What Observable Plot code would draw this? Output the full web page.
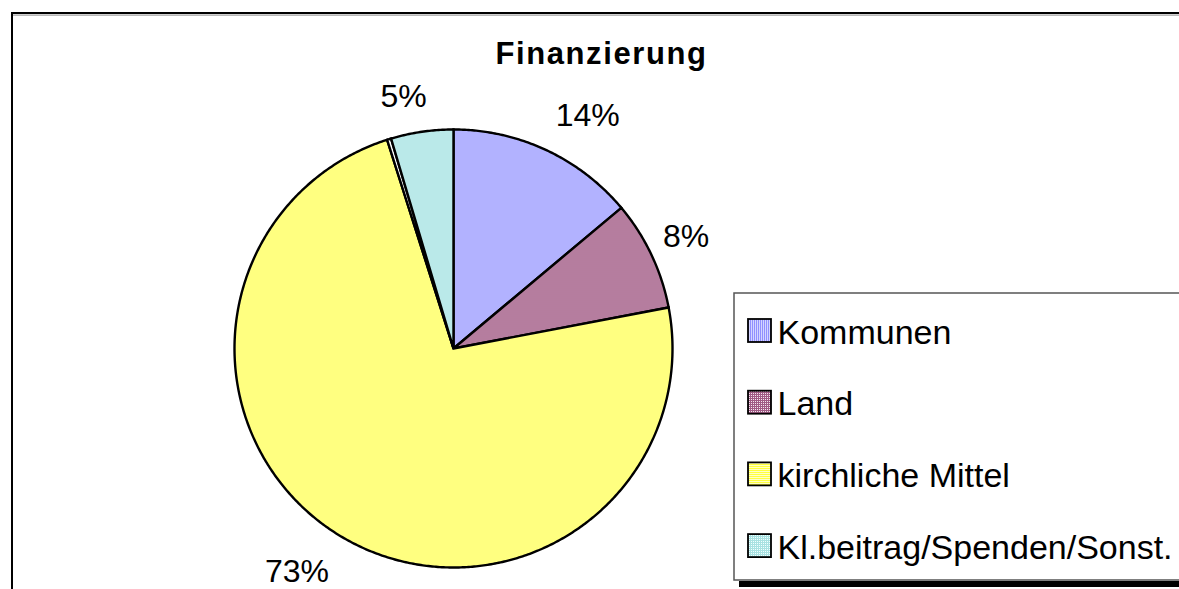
<!DOCTYPE html>
<html>
<head>
<meta charset="utf-8">
<script src="https://cdn.jsdelivr.net/npm/d3@7"></script>
<script src="https://cdn.jsdelivr.net/npm/@observablehq/plot@0.6"></script>
<style>
  html, body { margin: 0; padding: 0; background: white; overflow: hidden; }
  #chart svg { display: block; overflow: hidden; }
</style>
</head>
<body>
<div id="chart"></div>
<script>
// ---------- data ----------
const categories = ["Kommunen", "Land", "kirchliche Mittel", "", "Kl.beitrag/Spenden/Sonst."];
const values = [13.9, 8.1, 73.1, 0.3, 4.6];
const percentLabels = ["14%", "8%", "73%", "", "5%"];
const legendCategories = ["Kommunen", "Land", "kirchliche Mittel", "Kl.beitrag/Spenden/Sonst."];
const chartTitle = "Finanzierung";

// ---------- layout / style ----------
const W = 1179, H = 589;
const cx = 453, cy = 348, R = 219;
const patternIds = ["p-komm", "p-land", "p-kirch", "p-none", "p-kl"];
const labelRadius = 263;
const labelNudge = [[23, 6], [-5, 1], [-22, -3], [0, 0], [-12, 9]];
const legendBox = {x1: 734, x2: 1200, y1: 293, y2: 580};
const legendShadow = {x1: 739, x2: 1200, y: 583.5};
const outerFrame = {x1: 12, x2: 1200, y1: 13, y2: 640};
const legendFirstBaseline = 343, legendStep = 71.7;

// ---------- build slice polygons from the data ----------
const rows = categories.map((c, i) => ({name: c, value: values[i], label: percentLabels[i], fill: `url(#${patternIds[i]})`}));
const arcs = d3.pie().sort(null).value(d => d.value)(rows);
const slicePoints = [];
arcs.forEach((a, i) => {
  const key = "s" + i;
  slicePoints.push({key, fill: a.data.fill, x: cx, y: cy});
  const n = Math.max(2, Math.ceil((a.endAngle - a.startAngle) / (Math.PI / 360)));
  for (let k = 0; k <= n; k++) {
    const t = a.startAngle + (a.endAngle - a.startAngle) * k / n;
    slicePoints.push({key, fill: a.data.fill, x: cx + R * Math.sin(t), y: cy - R * Math.cos(t)});
  }
});
const labelRows = arcs.filter(a => a.data.label !== "").map(a => {
  const i = a.index;
  const m = (a.startAngle + a.endAngle) / 2;
  return {
    text: a.data.label,
    x: cx + labelRadius * Math.sin(m) + labelNudge[i][0],
    y: cy - labelRadius * Math.cos(m) + labelNudge[i][1]
  };
});
const legendRows = legendCategories.map((c, j) => {
  const i = categories.indexOf(c);
  const base = legendFirstBaseline + j * legendStep;
  return {name: c, fill: `url(#${patternIds[i]})`, base,
    sx1: 748, sx2: 771, sy1: base - 24, sy2: base - 1, tx: 777, ty: base - 0.32 * 34};
});

const svg = Plot.plot({
  width: W, height: H, margin: 0,
  x: {type: "linear", domain: [0, W], range: [0, W], axis: null},
  y: {type: "linear", domain: [0, H], range: [0, H], axis: null},
  color: {type: "identity"},
  style: {fontFamily: "'Liberation Sans', Arial, sans-serif", background: "white", overflow: "hidden"},
  marks: [
    // outer chart frame
    Plot.rect([outerFrame], {x1: "x1", x2: "x2", y1: "y1", y2: "y2", fill: "white", stroke: "black", strokeWidth: 2}),
    Plot.ruleY([outerFrame], {y: d => d.y1 + 1.6, x1: d => d.x1 + 1, x2: d => d.x2, stroke: "#888", strokeWidth: 1}),
    // pie slices
    Plot.line(slicePoints, {x: "x", y: "y", z: "key", fill: "fill", stroke: "black", strokeWidth: 2.4,
      curve: "linear-closed", strokeLinejoin: "miter", strokeMiterlimit: 4}),
    // percentage labels
    Plot.text(labelRows, {x: "x", y: "y", text: "text", fontSize: 32, textAnchor: "middle", lineAnchor: "middle", fill: "black"}),
    // title
    Plot.text([chartTitle], {x: () => 601, y: () => 63 - 0.32 * 31, text: d => d, fontSize: 31, fontWeight: "bold", textAnchor: "middle", lineAnchor: "middle", fill: "black"}),
    // legend
    Plot.rect([legendBox], {x1: "x1", x2: "x2", y1: "y1", y2: "y2", fill: "white", stroke: "#555", strokeWidth: 1.5}),
    Plot.ruleY([legendShadow], {y: "y", x1: "x1", x2: "x2", stroke: "black", strokeWidth: 6}),
    Plot.rect(legendRows, {x1: "sx1", x2: "sx2", y1: "sy1", y2: "sy2", fill: "fill", stroke: "black", strokeWidth: 1.8}),
    Plot.text(legendRows, {x: "tx", y: "ty", text: "name", fontSize: 34, textAnchor: "start", lineAnchor: "middle", fill: "black"})
  ]
});

// pattern fills (Excel-like hatches)
const defs = d3.select(svg).insert("defs", ":first-child");
function pattern(id, build) {
  const p = defs.append("pattern").attr("id", id).attr("patternUnits", "userSpaceOnUse")
    .attr("width", 2).attr("height", 2);
  build(p);
}
pattern("p-komm", p => {
  p.append("rect").attr("width", 2).attr("height", 2).attr("fill", "#d4d4ff");
  p.append("rect").attr("width", 1).attr("height", 2).attr("fill", "#8f8fff");
});
pattern("p-land", p => {
  p.append("rect").attr("width", 2).attr("height", 2).attr("fill", "#a05a84");
  p.append("rect").attr("x", 1).attr("y", 1).attr("width", 1).attr("height", 1).attr("fill", "#f4e6ee");
});
pattern("p-kirch", p => {
  p.append("rect").attr("width", 2).attr("height", 2).attr("fill", "#ffffc4");
  p.append("rect").attr("width", 2).attr("height", 1).attr("fill", "#ffff3c");
});
pattern("p-none", p => {
  p.append("rect").attr("width", 2).attr("height", 2).attr("fill", "#ffffff");
});
pattern("p-kl", p => {
  p.append("rect").attr("width", 2).attr("height", 2).attr("fill", "#f0ffff");
  p.append("rect").attr("width", 2).attr("height", 1).attr("fill", "#a8e2e2");
  p.append("rect").attr("width", 1).attr("height", 2).attr("fill", "#a8e2e2");
});

d3.select(svg).selectAll("text").filter(function () { return this.textContent === chartTitle; })
  .attr("letter-spacing", 1.6);

document.getElementById("chart").appendChild(svg);
</script>
</body>
</html>
